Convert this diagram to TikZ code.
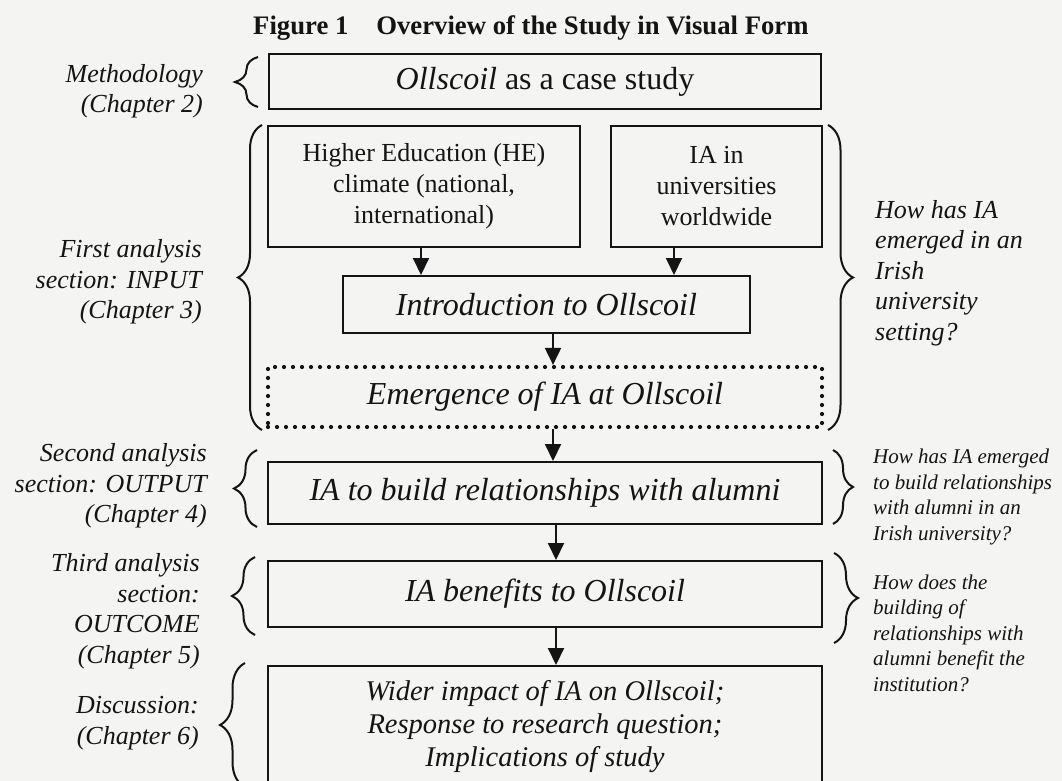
\documentclass[tikz,border=0pt]{standalone}
\usepackage{fontspec}
\setmainfont{Liberation Serif}
\usetikzlibrary{decorations.pathreplacing,arrows.meta}
% type sizes (1 unit = 1pt)
\newcommand\fsBig{\fontsize{32}{36}\selectfont}
\newcommand\fsWide{\fontsize{28.5}{33}\selectfont}
\newcommand\fsMid{\fontsize{26}{31}\selectfont}
\newcommand\fsHead{\fontsize{26.7}{31}\selectfont}
\newcommand\fsLab{\fontsize{26}{30.5}\selectfont}
\newcommand\fsSmall{\fontsize{21}{25.5}\selectfont}
\definecolor{paper}{RGB}{244,244,243}
\definecolor{ink}{RGB}{20,20,20}

\begin{document}
\begin{tikzpicture}[x=1pt,y=-1pt,
  box/.style={draw=ink, line width=2pt, inner sep=0pt, align=center, text=ink},
  dotbox/.style={box, line width=4.2pt, dash pattern=on 0pt off 9pt, line cap=round},
  arr/.style={draw=ink, line width=2pt, -{Triangle[width=16pt,length=17pt]}},
  brc/.style={draw=ink, line width=2pt, decorate, decoration={brace, amplitude=#1}},
  lab/.style={inner sep=0pt, align=right, anchor=east, text=ink, font=\fsLab\itshape},
  qtn/.style={inner sep=0pt, align=left, anchor=west, text=ink, font=\fsLab\itshape},
  qsm/.style={inner sep=0pt, align=left, anchor=west, text=ink, font=\fsSmall\itshape}]

\useasboundingbox (0,0) rectangle (1062,781);
\fill[paper] (0,0) rectangle (1062,781);
\clip (0,0) rectangle (1062,781);

% caption
\node[anchor=base west, inner sep=0pt, text=ink, font=\fsHead\bfseries] (title) at (253,35)
  {Figure 1\hspace{28pt}Overview of the Study in Visual Form};

% main flow boxes
\node[box, minimum width=552, minimum height=55, font=\fsBig] (case) at (545,81.5)
  {\textit{Ollscoil} as a case study};
\node[box, minimum width=312, minimum height=121, font=\fsMid] (he) at (424,186.5)
  {Higher Education (HE)\\climate (national,\\international)};
\node[box, minimum width=211, minimum height=121, font=\fsMid] (ia) at (716.5,186.5)
  {IA in\\universities\\worldwide};
\node[box, minimum width=407, minimum height=57, font=\fsBig\itshape] (intro) at (546.5,304.5)
  {Introduction to Ollscoil};
\node[dotbox, minimum width=554, minimum height=60, font=\fsBig\itshape] (emerge) at (545,397)
  {Emergence of IA at Ollscoil};
\node[box, minimum width=554, minimum height=62, font=\fsBig\itshape] (build) at (545,493)
  {IA to build relationships with alumni};
\node[box, minimum width=554, minimum height=66, font=\fsBig\itshape] (benefit) at (545,594)
  {IA benefits to Ollscoil};
\node[box, minimum width=554, minimum height=122, font=\fsWide\itshape] (wider) at (545,727)
  {Wider impact of IA on Ollscoil;\\Response to research question;\\Implications of study};

% connectors
\draw[arr] ([xshift=-3pt]he.south) -- ([xshift=-3pt]he.south |- intro.north);
\draw[arr] ([xshift=-42.5pt]ia.south) -- ([xshift=-42.5pt]ia.south |- intro.north);
\draw[arr] ([xshift=6.5pt]intro.south) -- ([xshift=6.5pt]intro.south |- emerge.north);
\draw[arr] ([xshift=8pt]emerge.south) -- ([xshift=8pt]emerge.south |- build.north);
\draw[arr] ([xshift=11pt]build.south) -- ([xshift=11pt]build.south |- benefit.north);
\draw[arr] ([xshift=11pt]benefit.south) -- ([xshift=11pt]benefit.south |- wider.north);

% braces on the left
\draw[brc=23pt] (258,107) -- (258,57);
\draw[brc=24pt] (262,430) -- (262,125);
\draw[brc=23pt] (257,527) -- (257,450);
\draw[brc=23pt] (255,635) -- (255,557);
\draw[brc=25pt] (245,787) -- (245,663);

% braces on the right
\draw[brc=25pt] (828,125) -- (828,430);
\draw[brc=20pt] (833,450) -- (833,524);
\draw[brc=24pt] (834,553) -- (834,643);

% chapter labels
\node[lab] (l2) at (203,91) {Methodology\\(Chapter 2)};
\node[lab] (l3) at (202,282) {First analysis\\section: INPUT\\(Chapter 3)};
\node[lab] (l4) at (207,486) {Second analysis\\section: OUTPUT\\(Chapter 4)};
\node[lab] (l5) at (200,611) {Third analysis\\section:\\OUTCOME\\(Chapter 5)};
\node[lab] (l6) at (199,723) {Discussion:\\(Chapter 6)};

% research questions
\node[qtn] (q1) at (875,273) {How has IA\\emerged in an\\Irish\\university\\setting?};
\node[qsm] (q2) at (873,497) {How has IA emerged\\to build relationships\\with alumni in an\\Irish university?};
\node[qsm] (q3) at (873,633) {How does the\\building of\\relationships with\\alumni benefit the\\institution?};
\end{tikzpicture}
\end{document}
